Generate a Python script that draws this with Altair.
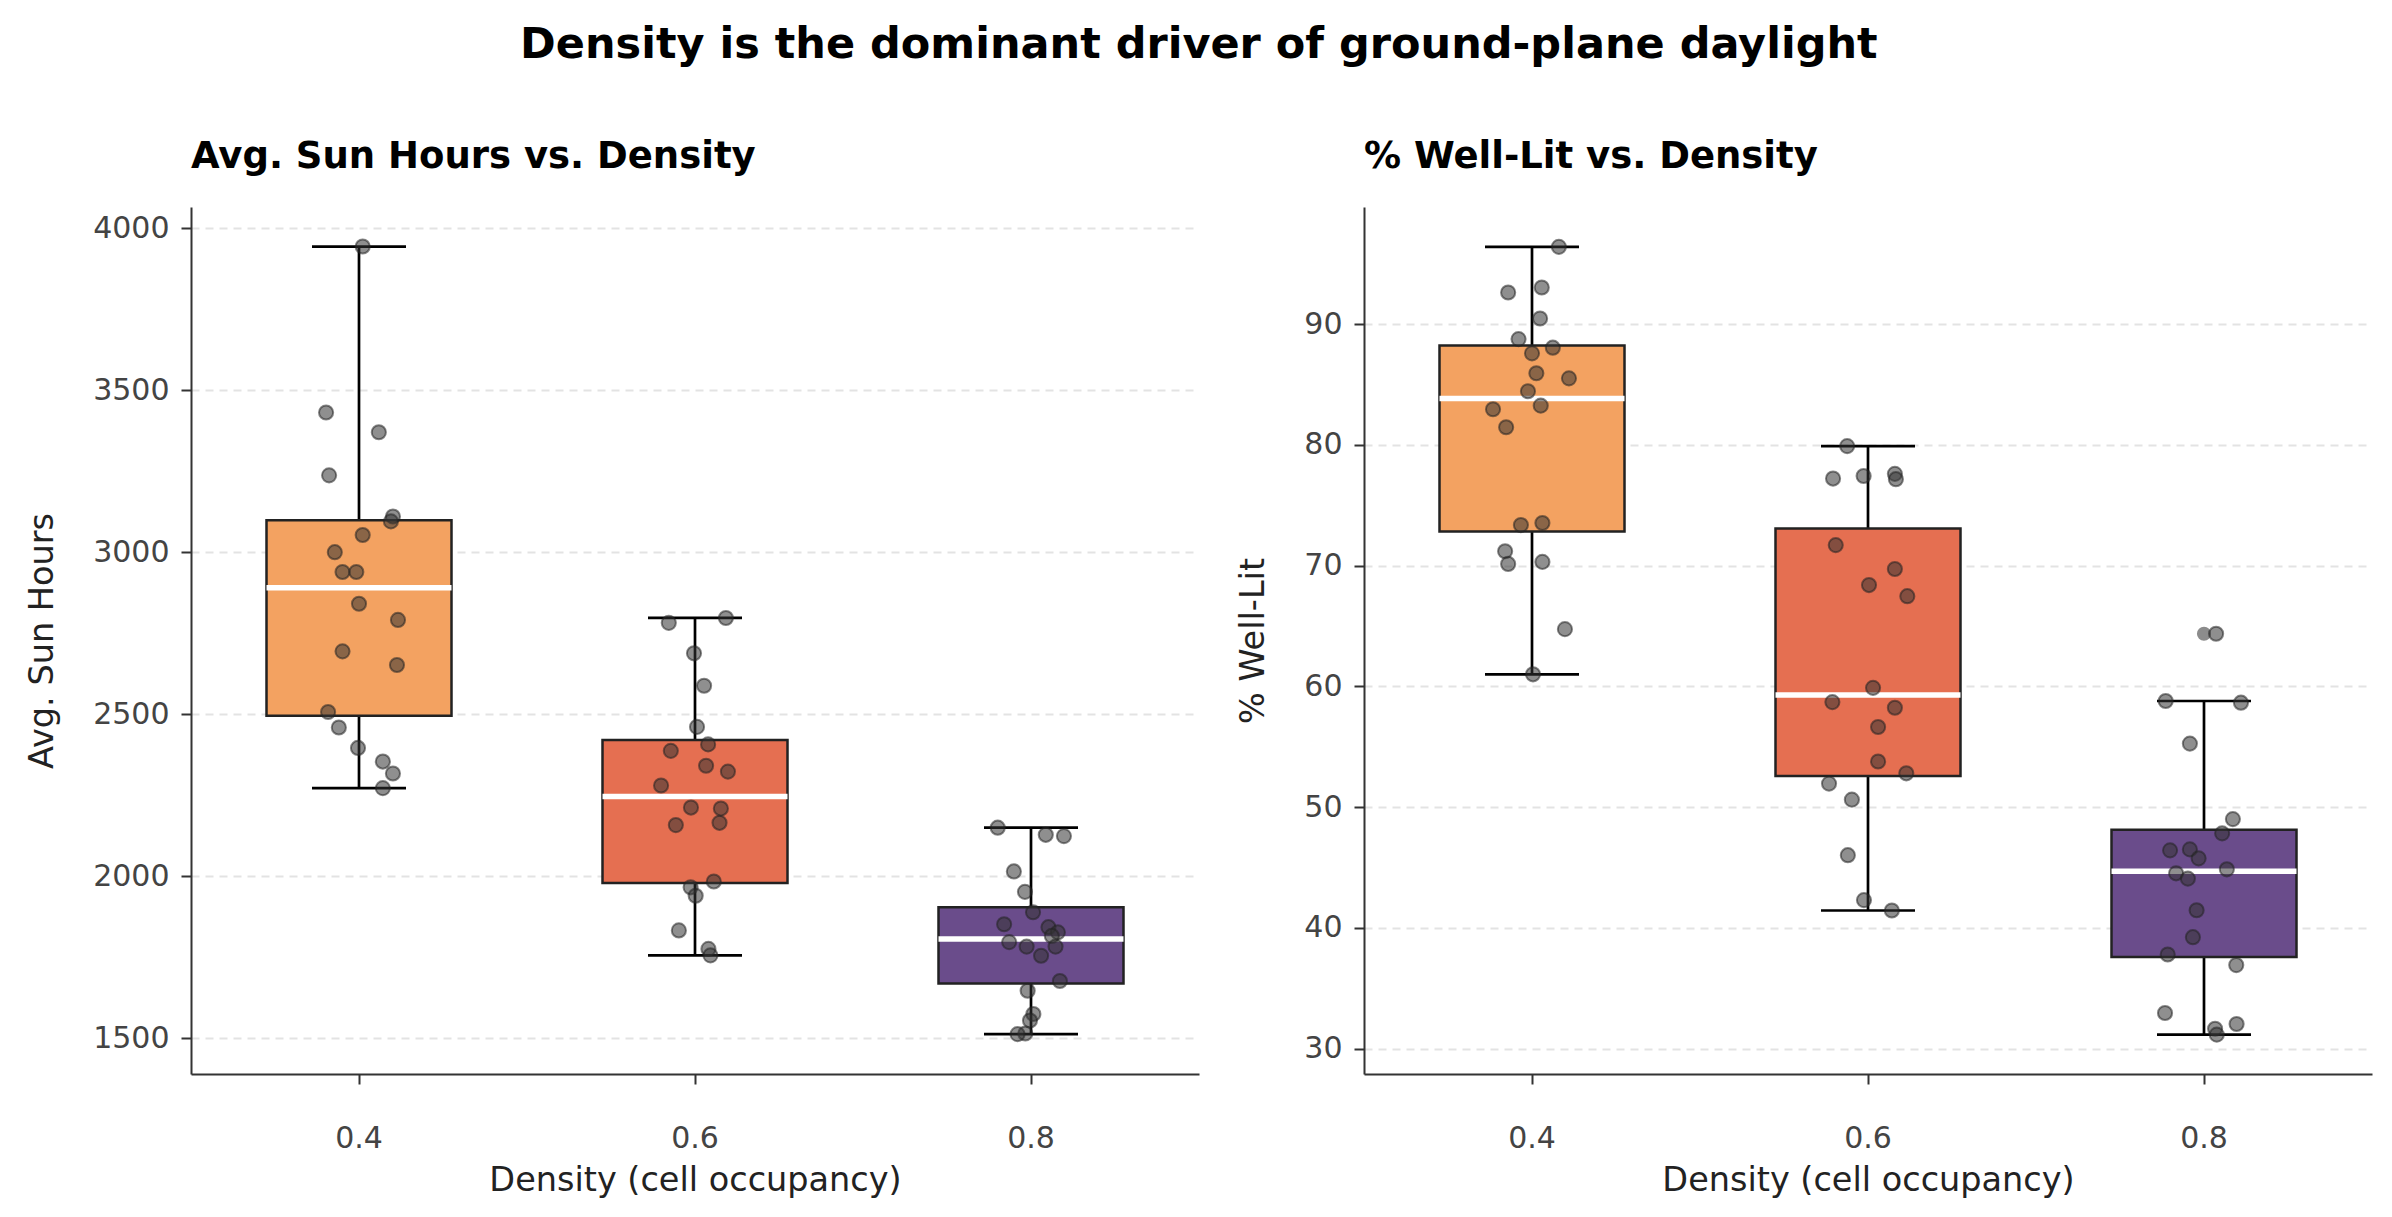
import altair as alt
import numpy as np
import pandas as pd

# ---------------- data ----------------
DENSITY = ["0.4", "0.6", "0.8"]
BOX_COLORS = ["#F3A261", "#E56F51", "#6A4C8B"]

SUN_04 = [3943, 3431, 3370, 3237, 3110, 3095, 3053, 3000, 2939, 2939,
          2841, 2791, 2694, 2652, 2507, 2459, 2396, 2354, 2317, 2272]
SUN_04_JIT = [0.011, -0.098, 0.059, -0.089, 0.101, 0.095, 0.011, -0.072, -0.049, -0.008,
              0.000, 0.116, -0.049, 0.113, -0.092, -0.060, -0.003, 0.071, 0.101, 0.071]
SUN_06 = [2797, 2782, 2688, 2588, 2461, 2407, 2387, 2341, 2323, 2280,
          2212, 2209, 2165, 2158, 1984, 1966, 1940, 1833, 1776, 1756]
SUN_06_JIT = [0.092, -0.078, -0.003, 0.027, 0.006, 0.039, -0.072, 0.033, 0.098, -0.101,
              -0.012, 0.077, 0.073, -0.057, 0.056, -0.013, 0.002, -0.048, 0.040, 0.046]
SUN_08 = [2150, 2128, 2124, 2015, 1952, 1889, 1852, 1843, 1827, 1816,
          1797, 1783, 1783, 1755, 1677, 1647, 1575, 1555, 1515, 1513]
SUN_08_JIT = [-0.099, 0.044, 0.098, -0.051, -0.018, 0.006, -0.080, 0.052, 0.080, 0.062,
              -0.065, -0.013, 0.073, 0.030, 0.086, -0.010, 0.007, -0.003, -0.017, -0.040]

LIT_04 = [96.40, 93.03, 92.62, 90.47, 88.76, 88.05, 87.58, 85.93, 85.51, 84.44,
          83.25, 82.95, 81.46, 73.53, 73.36, 71.19, 70.31, 70.14, 64.74, 61.00]
LIT_04_JIT = [0.080, 0.029, -0.071, 0.024, -0.040, 0.062, 0.000, 0.013, 0.110, -0.012,
              0.026, -0.116, -0.077, 0.031, -0.033, -0.080, 0.031, -0.071, 0.098, 0.003]
LIT_06 = [79.90, 77.60, 77.42, 77.21, 77.16, 71.70, 69.72, 68.39, 67.47, 59.88,
          58.70, 58.23, 56.64, 53.78, 52.80, 51.95, 50.62, 46.02, 42.30, 41.44]
LIT_06_JIT = [-0.062, 0.080, -0.013, -0.104, 0.083, -0.096, 0.080, 0.003, 0.117, 0.015,
              -0.106, 0.080, 0.030, 0.030, 0.114, -0.116, -0.048, -0.060, -0.012, 0.071]
LIT_08 = [64.36, 58.79, 58.65, 55.26, 49.01, 47.83, 46.50, 46.42, 45.76, 44.85,
          44.52, 44.08, 41.46, 39.23, 37.80, 36.92, 32.95, 32.04, 31.65, 31.16]
LIT_08_JIT = [0.036, -0.114, 0.110, -0.042, 0.086, 0.054, -0.042, -0.101, -0.016, 0.068,
              -0.083, -0.048, -0.022, -0.033, -0.108, 0.096, -0.116, 0.097, 0.033, 0.038]

SUN_TICKS = [1500, 2000, 2500, 3000, 3500, 4000]
LIT_TICKS = [30, 40, 50, 60, 70, 80, 90]

FONT = "DejaVu Sans"
PANEL_W = 1008
PANEL_H = 867


def make_frames(series, jitters):
    rows, stat_rows, out_rows = [], [], []
    for d, vals, jit in zip(DENSITY, series, jitters):
        for v, j in zip(vals, jit):
            rows.append({"density": d, "value": v, "jitter": j})
        a = np.array(vals, dtype=float)
        q1, med, q3 = np.percentile(a, [25, 50, 75])
        iqr = q3 - q1
        lo_f, hi_f = q1 - 1.5 * iqr, q3 + 1.5 * iqr
        lo = a[a >= lo_f].min()
        hi = a[a <= hi_f].max()
        stat_rows.append(dict(density=d, q1=q1, median=med, q3=q3, lo=lo, hi=hi))
        for v in a[(a < lo_f) | (a > hi_f)]:
            out_rows.append(dict(density=d, value=float(v)))
    return (pd.DataFrame(rows), pd.DataFrame(stat_rows),
            pd.DataFrame(out_rows, columns=["density", "value"]))


def panel(series, jitters, title, ytitle, ydomain, yticks):
    pts, stats, outl = make_frames(series, jitters)
    xenc = alt.X("density:N", sort=DENSITY,
                 scale=alt.Scale(domain=DENSITY, paddingInner=0, paddingOuter=0),
                 axis=alt.Axis(title="Density (cell occupancy)", labelAngle=0,
                               labelPadding=39, titlePadding=11, grid=False))
    yscale = alt.Scale(domain=ydomain, nice=False, zero=False)
    yaxis = alt.Axis(title=ytitle, values=yticks, grid=True, labelPadding=12,
                     titlePadding=33, format="d")

    def Y(field):
        return alt.Y(field, scale=yscale, axis=yaxis, title=ytitle)

    base = alt.Chart(stats)
    whisk_lo = base.mark_rule(color="black", strokeWidth=2.7).encode(
        x=xenc, y=Y("lo:Q"), y2="q1:Q")
    whisk_hi = base.mark_rule(color="black", strokeWidth=2.7).encode(
        x=xenc, y=Y("q3:Q"), y2="hi:Q")
    cap_lo = base.mark_tick(color="black", size=94, thickness=2.7, opacity=1).encode(
        x=xenc, y=Y("lo:Q"))
    cap_hi = base.mark_tick(color="black", size=94, thickness=2.7, opacity=1).encode(
        x=xenc, y=Y("hi:Q"))
    box = base.mark_bar(width=185, stroke="#222222", strokeWidth=2.5, opacity=1).encode(
        x=xenc, y=Y("q1:Q"), y2="q3:Q",
        color=alt.Color("density:N", scale=alt.Scale(domain=DENSITY, range=BOX_COLORS),
                        legend=None))
    med = base.mark_tick(color="white", size=185, thickness=5.5, opacity=1).encode(
        x=xenc, y=Y("median:Q"))
    flier = alt.Chart(outl).mark_circle(size=200, color="#6f6f6f", opacity=0.8).encode(
        x=xenc, y=Y("value:Q"))
    points = alt.Chart(pts).mark_circle(
        size=200, fill="#333333", fillOpacity=0.55, stroke="#222222",
        strokeOpacity=0.55, strokeWidth=2).encode(
        x=xenc,
        xOffset=alt.XOffset("jitter:Q", scale=alt.Scale(domain=[-0.5, 0.5],
                                                        range=[0, PANEL_W / 3])),
        y=Y("value:Q"))
    return alt.layer(whisk_lo, whisk_hi, cap_lo, cap_hi, box, med, flier, points).properties(
        width=PANEL_W, height=PANEL_H,
        title=alt.TitleParams(title, anchor="start", frame="group", fontSize=37,
                              fontWeight="bold", font=FONT, color="black", offset=31))


left = panel([SUN_04, SUN_06, SUN_08], [SUN_04_JIT, SUN_06_JIT, SUN_08_JIT],
             "Avg. Sun Hours vs. Density", "Avg. Sun Hours", [1390, 4065], SUN_TICKS)
right = panel([LIT_04, LIT_06, LIT_08], [LIT_04_JIT, LIT_06_JIT, LIT_08_JIT],
              "% Well-Lit vs. Density", "% Well-Lit", [27.9, 99.7], LIT_TICKS)

chart = alt.hconcat(left, right, spacing=37).properties(
    title=alt.TitleParams("Density is the dominant driver of ground-plane daylight",
                          anchor="middle", fontSize=43, fontWeight="bold", font=FONT,
                          color="black", offset=71),
    padding={"left": 25, "top": 24, "right": 10, "bottom": 10},
    background="white",
).configure_view(stroke=None).configure_axis(
    domainColor="#333333", domainWidth=2, tickColor="#333333", tickWidth=2, tickSize=10,
    labelFont=FONT, labelFontSize=30, labelColor="#444444",
    titleFont=FONT, titleFontSize=33.5, titleColor="#222222", titleFontWeight="normal",
    gridColor="#e3e3e3", gridDash=[8, 6], gridWidth=2,
)

chart.save("out.html", embed_options={"renderer": "svg", "actions": False})
